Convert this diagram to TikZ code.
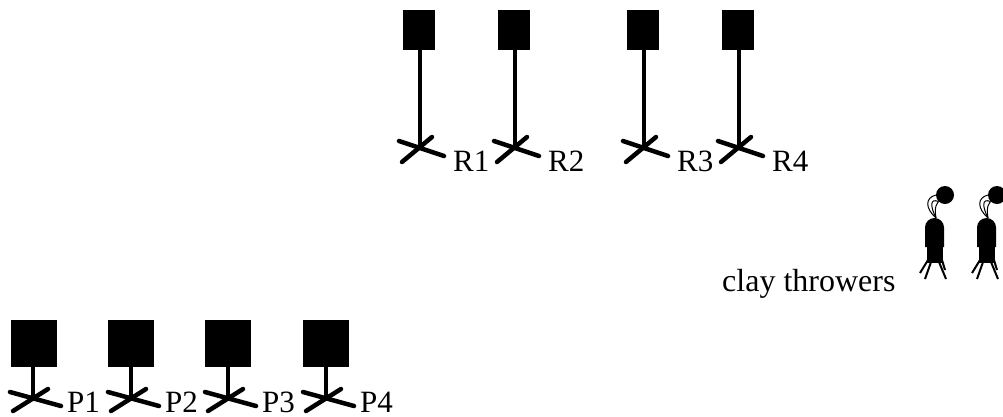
\documentclass[tikz,border=0pt]{standalone}
\usepackage{fontspec}
\setmainfont{Liberation Serif}
\tikzset{
  rbox/.style={fill=black, inner sep=0pt, minimum width=32pt, minimum height=40pt},
  pbox/.style={fill=black, inner sep=0pt, minimum width=46pt, minimum height=47pt},
  pole/.style={line width=3.5pt},
  stroke/.style={line width=4.5pt, line cap=round},
  tag/.style={anchor=base west, inner sep=0pt, font=\fontsize{31}{31}\selectfont},
  ball/.style={circle, fill=black, inner sep=0pt, minimum size=18pt},
  wire/.style={line width=1pt},
  leg/.style={line width=2pt}
}
\begin{document}
\begin{tikzpicture}[x=1pt, y=-1pt]
\useasboundingbox (0,0) rectangle (1003,416);

% targets behind
\node[rbox] (r1box) at (419, 30) {};
\node[rbox] (r2box) at (514, 30) {};
\node[rbox] (r3box) at (643, 30) {};
\node[rbox] (r4box) at (738, 30) {};
\coordinate (r1foot) at (420, 146);
\coordinate (r2foot) at (515, 146);
\coordinate (r3foot) at (644, 146);
\coordinate (r4foot) at (739, 146);

\draw[pole] (r1box.south -| r1foot) -- (r1foot);
\draw[pole] (r2box.south -| r2foot) -- (r2foot);
\draw[pole] (r3box.south -| r3foot) -- (r3foot);
\draw[pole] (r4box.south -| r4foot) -- (r4foot);

\draw[stroke] (399, 141) -- (444, 156);
\draw[stroke] (402, 162) -- (432, 137);
\draw[stroke] (494, 141) -- (539, 156);
\draw[stroke] (497, 162) -- (527, 137);
\draw[stroke] (623, 141) -- (668, 156);
\draw[stroke] (626, 162) -- (656, 137);
\draw[stroke] (718, 141) -- (763, 156);
\draw[stroke] (721, 162) -- (751, 137);

\node[tag] (r1) at (453, 171) {R1};
\node[tag] (r2) at (548, 171) {R2};
\node[tag] (r3) at (677, 171) {R3};
\node[tag] (r4) at (772, 171) {R4};

% targets in front
\node[pbox] (p1box) at (33.5, 343) {};
\node[pbox] (p2box) at (131, 343) {};
\node[pbox] (p3box) at (228, 343) {};
\node[pbox] (p4box) at (326, 343) {};
\coordinate (p1foot) at (33, 397);
\coordinate (p2foot) at (131, 397);
\coordinate (p3foot) at (228, 397);
\coordinate (p4foot) at (326, 397);

\draw[pole] (p1box.south -| p1foot) -- (p1foot);
\draw[pole] (p2box.south -| p2foot) -- (p2foot);
\draw[pole] (p3box.south -| p3foot) -- (p3foot);
\draw[pole] (p4box.south -| p4foot) -- (p4foot);

\draw[stroke] (10, 392) -- (61, 406);
\draw[stroke] (13, 411) -- (48, 389);
\draw[stroke] (108, 392) -- (159, 406);
\draw[stroke] (111, 411) -- (146, 389);
\draw[stroke] (205, 392) -- (256, 406);
\draw[stroke] (208, 411) -- (243, 389);
\draw[stroke] (303, 392) -- (354, 406);
\draw[stroke] (306, 411) -- (341, 389);

\node[tag] (p1) at (67, 412) {P1};
\node[tag] (p2) at (165, 412) {P2};
\node[tag] (p3) at (262, 412) {P3};
\node[tag] (p4) at (360, 412) {P4};

% clay throwers
\node[tag, font=\fontsize{32}{32}\selectfont] (clay) at (722, 291) {clay throwers};

\node[ball] (t1ball) at (945, 195) {};
\coordinate (t1neck) at (936, 218);
\draw[wire] (t1neck) .. controls (925, 208) and (925, 198) .. (t1ball.west);
\draw[wire] (t1neck) .. controls (930, 206) and (930, 198) .. (t1ball.south west);
\draw[wire] (t1neck) .. controls (934, 206) and (937, 204) .. (t1ball.south west);
\fill (925, 247) -- (925, 227.5) arc[start angle=180, end angle=360, radius=9.5] -- (944, 247) -- cycle;
\fill (927, 247) rectangle (943, 263);
\draw[leg] (928, 260) -- (920, 273);
\draw[leg] (931, 262) -- (925, 279);
\draw[leg] (939, 262) -- (946, 279);
\draw[leg] (942, 260) -- (945, 270);

\node[ball] (t2ball) at (997, 195) {};
\coordinate (t2neck) at (988, 218);
\draw[wire] (t2neck) .. controls (977, 208) and (977, 198) .. (t2ball.west);
\draw[wire] (t2neck) .. controls (982, 206) and (982, 198) .. (t2ball.south west);
\draw[wire] (t2neck) .. controls (986, 206) and (989, 204) .. (t2ball.south west);
\fill (977, 247) -- (977, 227.5) arc[start angle=180, end angle=360, radius=9.5] -- (996, 247) -- cycle;
\fill (979, 247) rectangle (995, 263);
\draw[leg] (980, 260) -- (972, 273);
\draw[leg] (983, 262) -- (977, 279);
\draw[leg] (991, 262) -- (998, 279);
\draw[leg] (994, 260) -- (997, 270);
\end{tikzpicture}
\end{document}
